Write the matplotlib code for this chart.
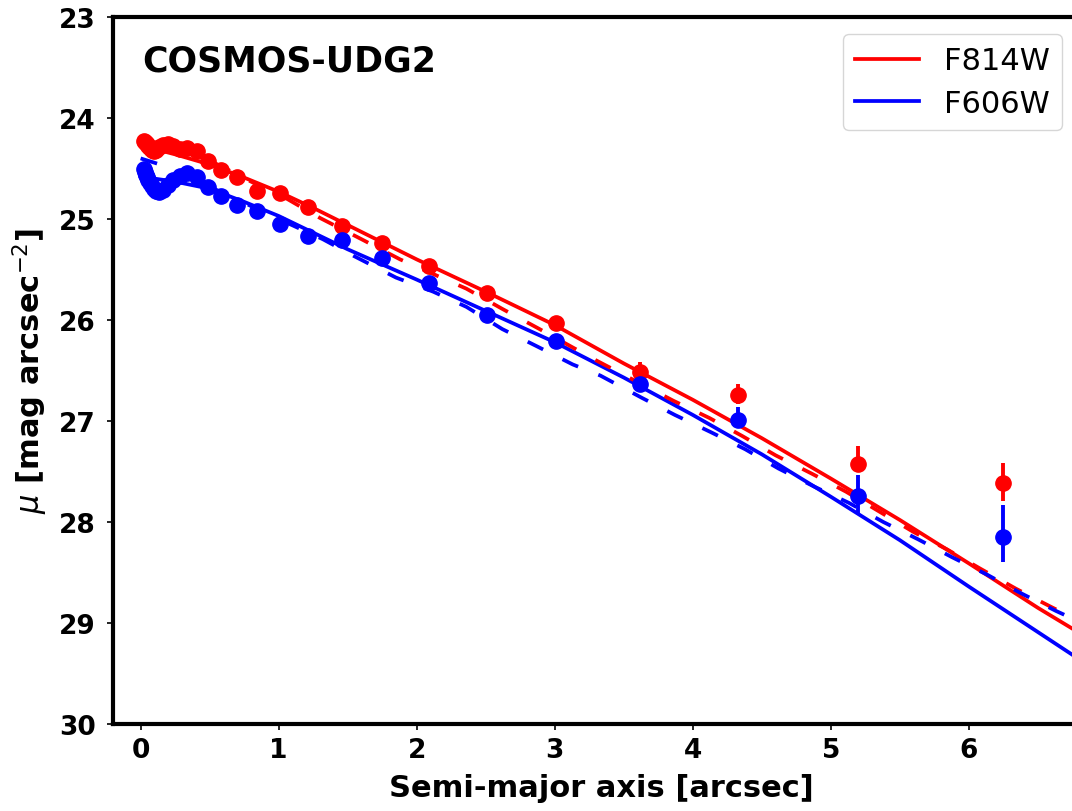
import matplotlib
matplotlib.use("Agg")
import matplotlib.pyplot as plt
import numpy as np

# ---- data ----
radius = [0.027, 0.032, 0.038, 0.045, 0.055, 0.065, 0.079, 0.094, 0.113, 0.136,
          0.163, 0.196, 0.235, 0.282, 0.338, 0.406, 0.487, 0.585, 0.70, 0.84,
          1.01, 1.21, 1.46, 1.75, 2.09, 2.51, 3.01, 3.62, 4.33, 5.20, 6.25]

mu_f814w = [24.23, 24.24, 24.25, 24.26, 24.28, 24.30, 24.32, 24.33, 24.32, 24.29,
            24.27, 24.26, 24.28, 24.31, 24.30, 24.33, 24.43, 24.51, 24.58, 24.72,
            24.74, 24.88, 25.07, 25.24, 25.47, 25.73, 26.03, 26.51, 26.74, 27.43, 27.61]
err_lo_f814w = [0.01]*22 + [0.01, 0.02, 0.02, 0.03, 0.06, 0.09, 0.11, 0.18, 0.19]
err_hi_f814w = [0.01]*22 + [0.01, 0.02, 0.02, 0.03, 0.05, 0.08, 0.09, 0.07, 0.18]

mu_f606w = [24.50, 24.53, 24.56, 24.58, 24.61, 24.64, 24.67, 24.70, 24.72, 24.73,
            24.71, 24.66, 24.61, 24.57, 24.54, 24.58, 24.68, 24.77, 24.86, 24.92,
            25.05, 25.17, 25.21, 25.39, 25.63, 25.95, 26.21, 26.63, 26.99, 27.74, 28.15]
err_lo_f606w = [0.01]*22 + [0.01, 0.02, 0.02, 0.03, 0.04, 0.07, 0.13, 0.21, 0.32]
err_hi_f606w = [0.01]*22 + [0.01, 0.02, 0.02, 0.03, 0.04, 0.06, 0.07, 0.17, 0.25]

# model profiles (solid / dashed)
model_x_red = [0.0, 0.25, 0.5, 0.75, 1.0, 1.25, 1.5, 2.0, 2.5, 3.0, 3.5, 4.0, 4.5, 5.0, 5.5, 6.0, 6.5, 6.9]
model_red = [24.27, 24.36, 24.46, 24.59, 24.73, 24.89, 25.06, 25.40, 25.72, 26.05, 26.43, 26.79,
             27.17, 27.57, 27.98, 28.41, 28.85, 29.18]
model_x_blue = [0.0, 0.25, 0.5, 0.75, 1.0, 1.5, 2.0, 2.5, 3.0, 3.5, 4.0, 4.5, 5.0, 5.5, 6.0, 6.5, 6.9]
model_blue = [24.58, 24.63, 24.70, 24.83, 24.97, 25.30, 25.60, 25.91, 26.22, 26.57, 26.94, 27.33,
              27.75, 28.18, 28.64, 29.09, 29.45]

dash_x_red = [0.0, 0.5, 0.8, 1.06, 1.3, 1.6, 1.88, 2.36, 2.62, 2.89, 3.3, 3.86, 4.12, 4.36, 4.60,
              4.86, 5.11, 5.60, 5.84, 6.08, 6.34, 6.58, 6.9]
dash_red = [24.20, 24.42, 24.63, 24.80, 24.99, 25.20, 25.40, 25.69, 25.89, 26.09, 26.40, 26.80,
            26.97, 27.15, 27.34, 27.52, 27.70, 28.10, 28.27, 28.46, 28.66, 28.83, 29.05]
dash_x_blue = [0.0, 0.14, 0.5, 1.0, 1.32, 1.55, 1.85, 2.12, 2.36, 2.62, 2.87, 3.13, 3.33, 3.63,
               3.87, 4.13, 4.38, 4.62, 4.88, 5.13, 5.38, 5.63, 5.88, 6.13, 6.37, 6.63, 6.9]
dash_blue = [24.40, 24.46, 24.68, 25.00, 25.20, 25.37, 25.58, 25.72, 25.87, 26.09, 26.26, 26.44,
             26.55, 26.77, 26.94, 27.11, 27.28, 27.47, 27.65, 27.81, 28.00, 28.17, 28.35, 28.52,
             28.70, 28.88, 29.05]

x_ticks = [0, 1, 2, 3, 4, 5, 6]
y_ticks = [23, 24, 25, 26, 27, 28, 29, 30]

# ---- figure ----
W, H = 1072, 812
fig = plt.figure(figsize=(W / 100, H / 100), dpi=100)
ax = fig.add_axes([113 / W, 1 - 725 / H, (1089 - 113) / W, (725 - 18) / H])

ax.errorbar(radius, mu_f814w, yerr=[err_lo_f814w, err_hi_f814w], fmt='o', color='red',
            ms=11, elinewidth=2.8, capsize=0, zorder=3)
ax.errorbar(radius, mu_f606w, yerr=[err_lo_f606w, err_hi_f606w], fmt='o', color='blue',
            ms=11, elinewidth=2.8, capsize=0, zorder=3)

ax.plot(model_x_red, model_red, color='red', lw=2.7, label='F814W', zorder=2)
ax.plot(model_x_blue, model_blue, color='blue', lw=2.7, label='F606W', zorder=2)
ax.plot(dash_x_red, dash_red, color='red', lw=2.7, ls=(0, (4.6, 5.8)), zorder=2)
ax.plot(dash_x_blue, dash_blue, color='blue', lw=2.7, ls=(0, (4.6, 5.8)), zorder=2)

ax.set_xlim(-0.2, 6.87)
ax.set_ylim(30, 23)
ax.set_xticks(x_ticks)
ax.set_yticks(y_ticks)
ax.set_xticklabels([str(v) for v in x_ticks], fontsize=19, fontweight='bold')
ax.set_yticklabels([str(v) for v in y_ticks], fontsize=19, fontweight='bold')
ax.tick_params(axis='both', direction='out', length=4.5, width=1.2)
ax.tick_params(axis='x', pad=5)
ax.tick_params(axis='y', pad=8)
for s in ax.spines.values():
    s.set_linewidth(3)

ax.set_xlabel('Semi-major axis [arcsec]', fontsize=22, fontweight='bold')
ax.xaxis.label.set_va('baseline')
ax.xaxis.set_label_coords(0.5, -(797 - 725) / (725 - 18))
ax.set_ylabel(r'$\mu$ [mag arcsec$^{-2}$]', fontsize=22, fontweight='bold')
ax.yaxis.label.set_va('center')
ax.yaxis.label.set_ha('center')
ax.yaxis.set_label_coords(-(113 - 30) / (1089 - 113), 0.5)

fig.text(142 / W, 1 - 71 / H, 'COSMOS-UDG2', fontsize=25, fontweight='bold', va='baseline', ha='left')

ax.legend(loc='upper left', bbox_to_anchor=(843 / W, 1 - 35 / H), bbox_transform=fig.transFigure,
          borderaxespad=0, fontsize=22, handlelength=2.1, handletextpad=0.8, borderpad=0.4,
          labelspacing=0.45)

fig.savefig('out.png', dpi=100)
